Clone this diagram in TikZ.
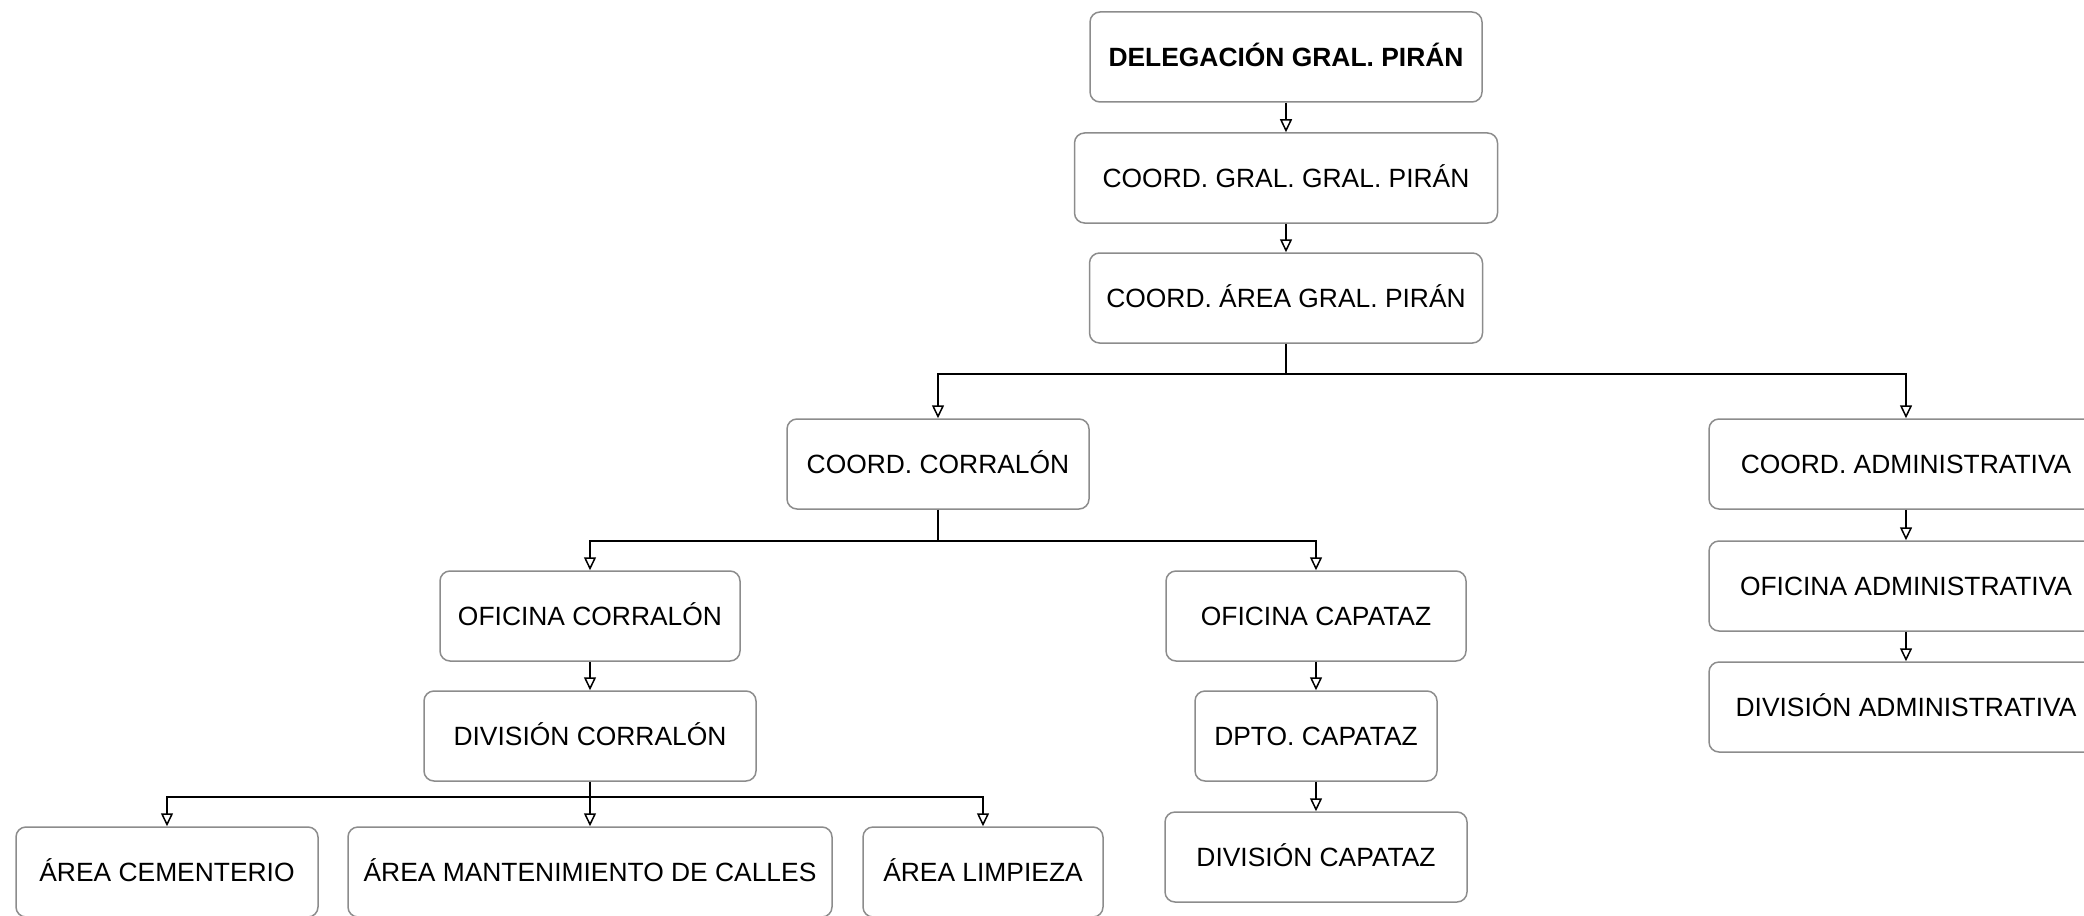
\documentclass[tikz,border=0pt]{standalone}
\usepackage{fontspec}
\setmainfont{Liberation Sans}
\usetikzlibrary{arrows.meta}
\tikzset{
  box/.style={draw=black!45, line width=1.5pt, rounded corners=10pt, inner sep=0pt,
    minimum height=90pt, text height=19pt, text depth=0pt,
    font=\fontsize{26.4}{30}\selectfont, text=black},
  arr/.style={draw=black, line width=1.5pt, -{Triangle[open, length=13pt, width=12pt, line width=1.5pt]}},
  ln/.style={draw=black, line width=1.5pt}
}
\begin{document}
\begin{tikzpicture}[x=1pt, y=-1pt]
\useasboundingbox (0,0) rectangle (2084,915);
\clip (0,0) rectangle (2084,915);
\node[box, minimum width=392pt, font=\fontsize{26.4}{30}\selectfont\bfseries] (del) at (1286,57) {DELEGACIÓN GRAL. PIRÁN};
\node[box, minimum width=423pt] (cgg) at (1286,178) {COORD. GRAL. GRAL. PIRÁN};
\node[box, minimum width=393pt] (cap) at (1286,298) {COORD. ÁREA GRAL. PIRÁN};
\node[box, minimum width=302pt] (ccorr) at (938,464) {COORD. CORRALÓN};
\node[box, minimum width=394pt] (cadm) at (1906,464) {COORD. ADMINISTRATIVA};
\node[box, minimum width=394pt] (ofadm) at (1906,586) {OFICINA ADMINISTRATIVA};
\node[box, minimum width=394pt] (divadm) at (1906,707) {DIVISIÓN ADMINISTRATIVA};
\node[box, minimum width=300pt] (ofcorr) at (590,616) {OFICINA CORRALÓN};
\node[box, minimum width=300pt] (ofcap) at (1316,616) {OFICINA CAPATAZ};
\node[box, minimum width=332pt] (divcorr) at (590,736) {DIVISIÓN CORRALÓN};
\node[box, minimum width=242pt] (dptocap) at (1316,736) {DPTO. CAPATAZ};
\node[box, minimum width=302pt] (divcap) at (1316,857) {DIVISIÓN CAPATAZ};
\node[box, minimum width=302pt] (acem) at (167,872) {ÁREA CEMENTERIO};
\node[box, minimum width=484pt] (amant) at (590,872) {ÁREA MANTENIMIENTO DE CALLES};
\node[box, minimum width=240pt] (alimp) at (983,872) {ÁREA LIMPIEZA};

\draw[arr] (del) -- (cgg);
\draw[arr] (cgg) -- (cap);
\draw[arr] (cap.south) -- ++(0,30) -| (ccorr.north);
\draw[arr] (cap.south) -- ++(0,30) -| (cadm.north);
\draw[arr] (cadm) -- (ofadm);
\draw[arr] (ofadm) -- (divadm);
\draw[arr] (ccorr.south) -- ++(0,31) -| (ofcorr.north);
\draw[arr] (ccorr.south) -- ++(0,31) -| (ofcap.north);
\draw[arr] (ofcorr) -- (divcorr);
\draw[arr] (ofcap) -- (dptocap);
\draw[arr] (dptocap) -- (divcap);
\draw[arr] (divcorr.south) -- ++(0,15) -| (acem.north);
\draw[arr] (divcorr.south) -- ++(0,15) -| (alimp.north);
\draw[arr] (divcorr.south) -- (amant.north);
\end{tikzpicture}
\end{document}
